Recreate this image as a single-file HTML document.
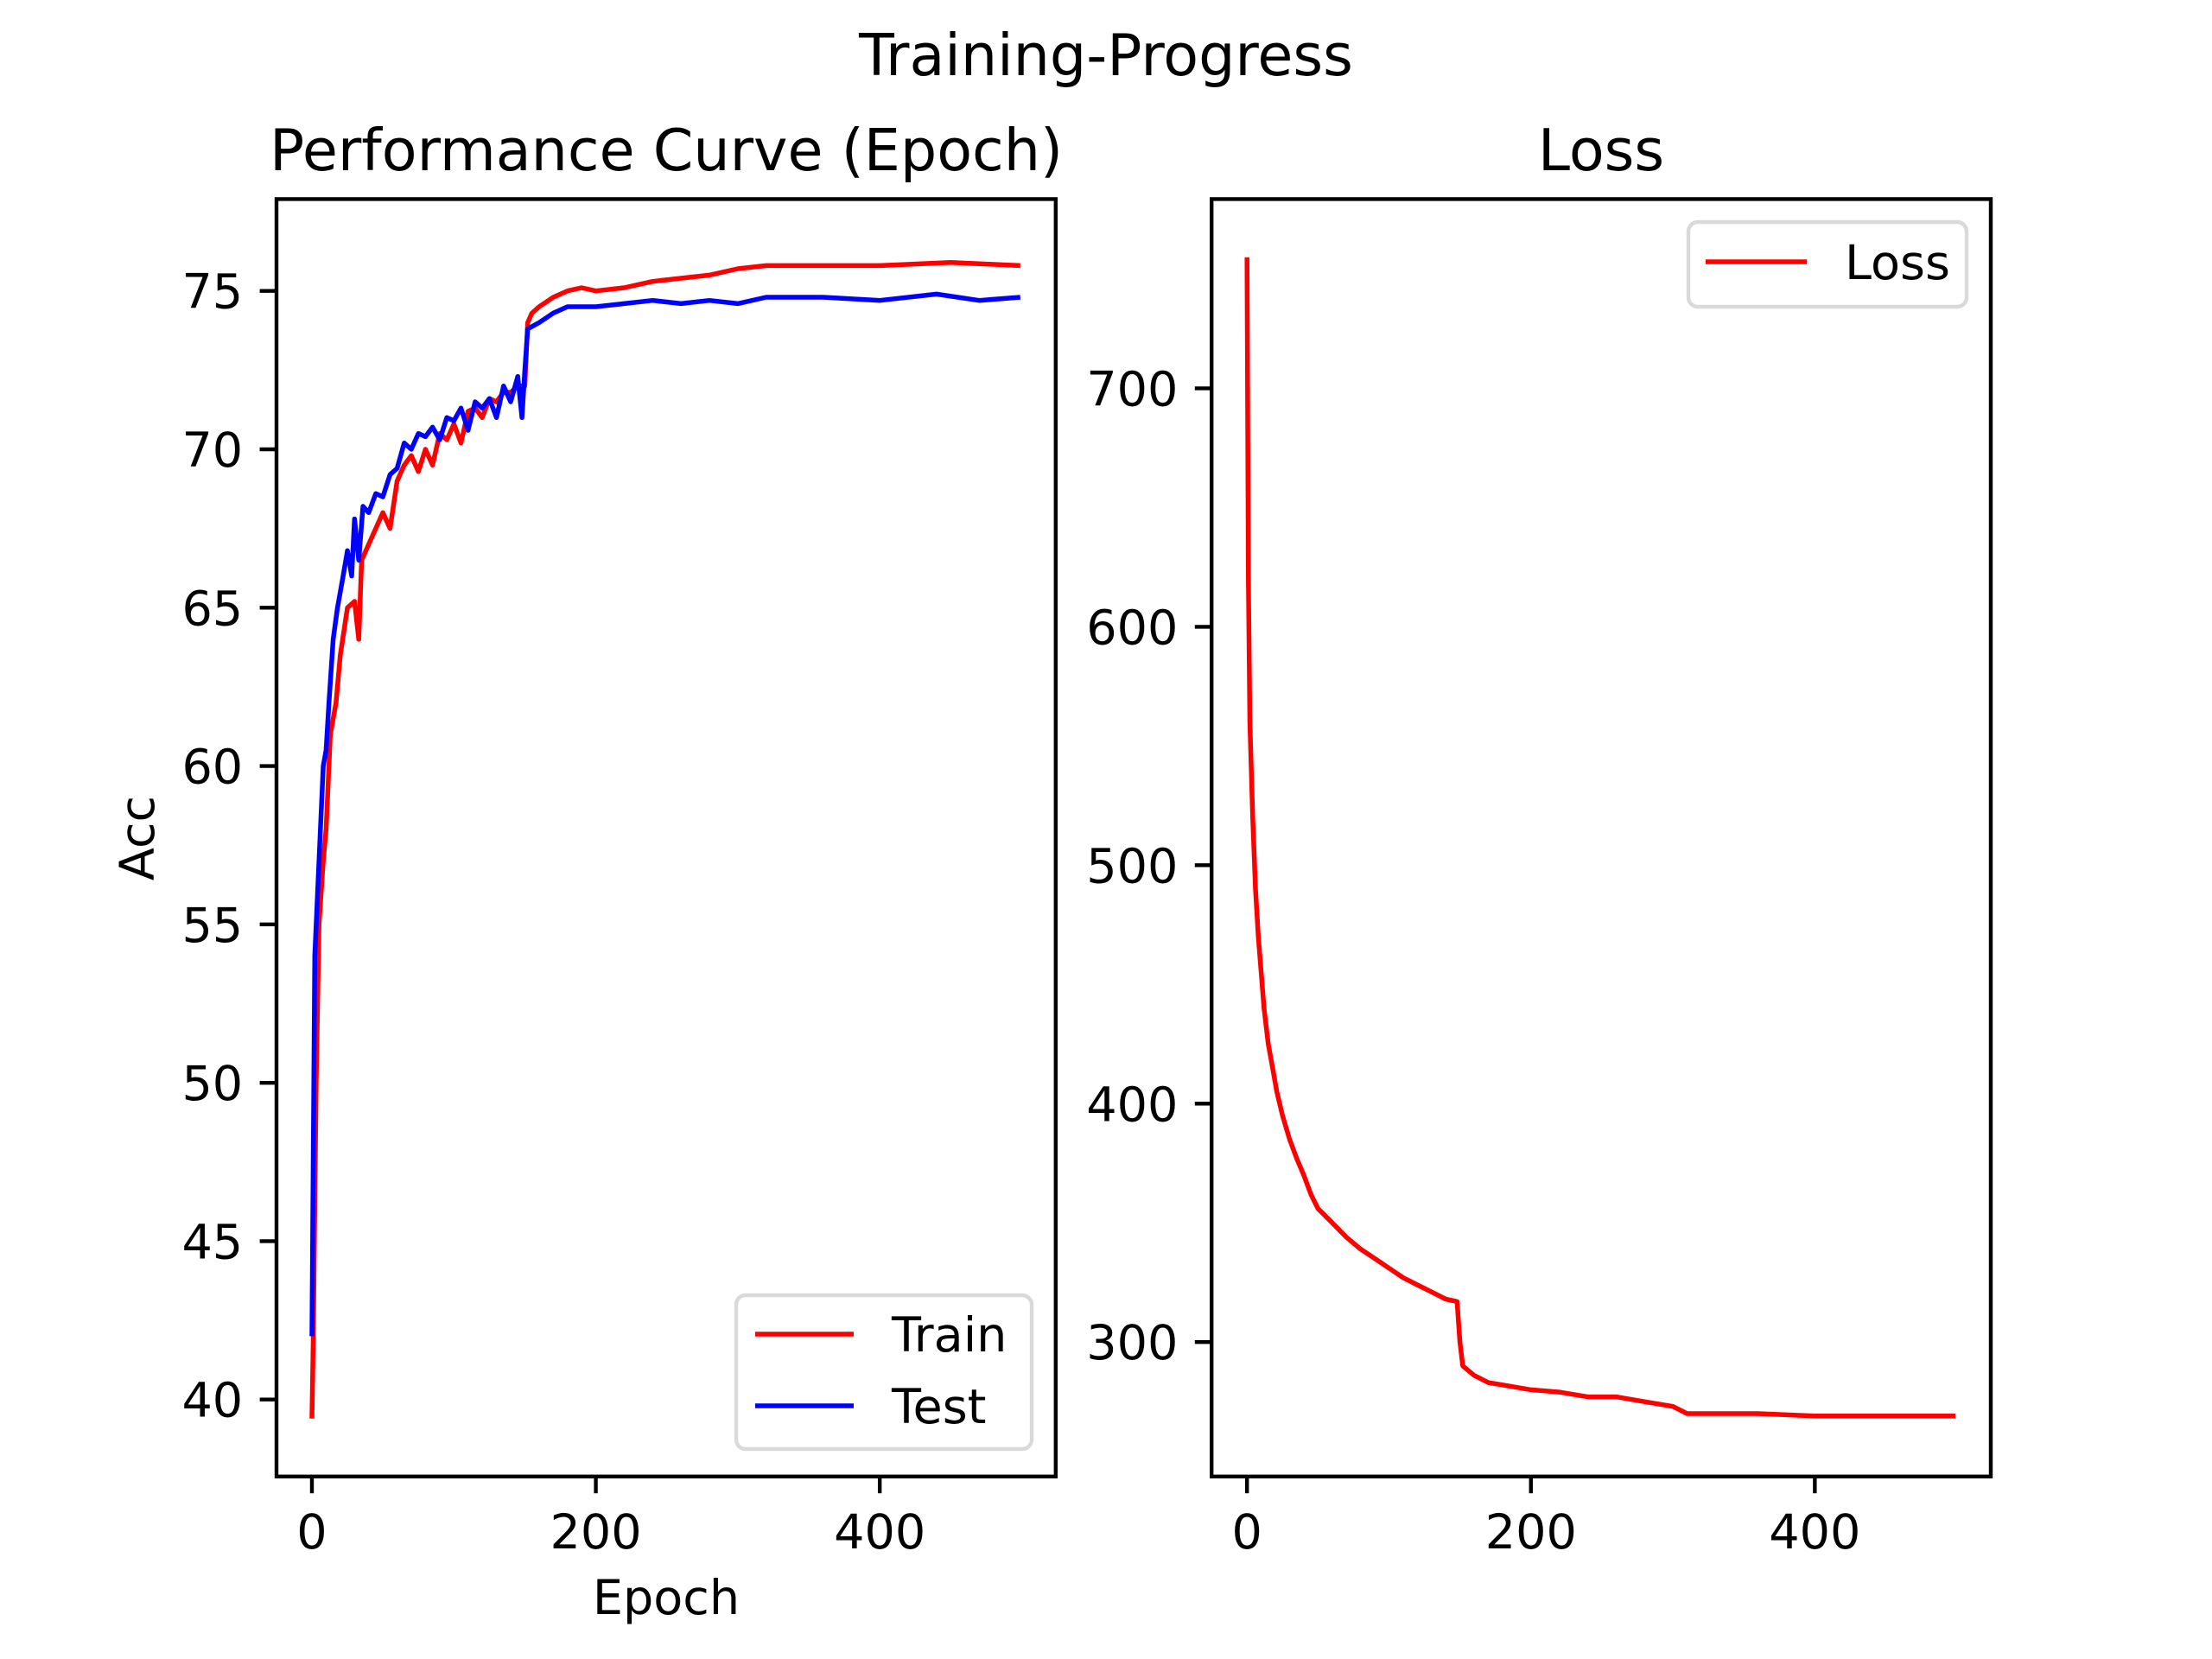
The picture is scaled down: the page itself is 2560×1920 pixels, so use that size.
<!DOCTYPE html>
<html><head><meta charset="utf-8"><style>
html,body{margin:0;padding:0;background:#fff}
svg{display:block}
text{font-family:"DejaVu Sans","Liberation Sans",sans-serif;fill:#000}
</style></head><body>
<svg id="fig" width="2560" height="1920" viewBox="0 0 2560 1920" xmlns="http://www.w3.org/2000/svg">
<rect width="2560" height="1920" fill="#fff"/>
<text x="1280" y="87" font-size="66.7" text-anchor="middle">Training-Progress</text>
<text x="771" y="197" font-size="66.7" text-anchor="middle">Performance Curve (Epoch)</text>
<text x="1853" y="197" font-size="66.7" text-anchor="middle">Loss</text>
<text x="771" y="1868" font-size="55.6" text-anchor="middle">Epoch</text>
<text x="0" y="0" font-size="55.6" text-anchor="middle" transform="translate(178,970) rotate(-90)">Acc</text>
<g id="g1"></g>
<g id="g2"></g>
</svg>
<script>
const accEpochs=[0,1,3,5,8,10,13,17,20,25,30,33,35,40,45,50,55,60,65,70,75,80,85,90,95,100,105,110,115,120,125,130,135,140,145,150,152,155,160,170,180,190,200,220,240,260,280,300,320,350,400,450,499];
const trainAcc=[39.4,42,50,55,57,58,61,62,63.5,65,65.2,64,66.5,67,67.5,68,67.5,69,69.5,69.8,69.3,70,69.5,70.5,70.3,70.8,70.2,71.2,71.3,71,71.6,71.5,71.8,71.8,72,72,74,74.3,74.5,74.8,75,75.1,75,75.1,75.3,75.4,75.5,75.7,75.8,75.8,75.8,75.9,75.8];
const testEpochs=[0,2,5,8,10,12,15,18,22,25,28,30,33,36,40,45,50,55,60,65,70,75,80,85,90,95,100,105,110,115,120,125,130,135,140,145,148,150,152,160,170,180,200,220,240,260,280,300,320,360,400,440,470,499];
const testAcc=[42,54,57,60,60.5,62,64,65,66,66.8,66,67.8,66.5,68.2,68,68.6,68.5,69.2,69.4,70.2,70,70.5,70.4,70.7,70.3,71,70.9,71.3,70.6,71.5,71.3,71.6,71,72,71.5,72.3,71,72.5,73.8,74,74.3,74.5,74.5,74.6,74.7,74.6,74.7,74.6,74.8,74.8,74.7,74.9,74.7,74.8];
const lossEpochs=[0,1,2,4,6,8,10,12,15,18,21,25,30,35,40,45,50,60,70,80,90,100,110,120,130,140,148,150,152,160,170,180,200,220,240,260,280,300,310,330,360,400,440,470,499];
const lossVals=[755,620,560,520,490,470,455,440,425,415,405,395,385,377,370,362,356,350,344,339,335,331,327,324,321,318,317,300,290,286,283,282,280,279,277,277,275,273,270,270,270,269,269,269,269];
const xTicks=[0,200,400];
const accTicks=[40,45,50,55,60,65,70,75];
const lossTicks=[300,400,500,600,700];

const NS="http://www.w3.org/2000/svg";
function mk(parent,tag,attrs){const e=document.createElementNS(NS,tag);for(const k in attrs)e.setAttribute(k,attrs[k]);parent.appendChild(e);return e;}
const T=230.4,B=1708.8;
function makeAxis(L,R,ymin,ymax){
  const xmin=-24.95,xmax=523.95;
  return {L,R,x:v=>L+(v-xmin)/(xmax-xmin)*(R-L),y:v=>B-(v-ymin)/(ymax-ymin)*(B-T)};
}
function lineOf(g,ax,xs,ys,color,name){
  const pts=xs.map((e,i)=>ax.x(e).toFixed(1)+","+ax.y(ys[i]).toFixed(1)).join(" ");
  const p=mk(g,"polyline",{points:pts,fill:"none",stroke:color,"stroke-width":5.5,"stroke-linejoin":"round"});
  
  
}
function frame(g,ax,yt,prefix){
  xTicks.forEach(t=>{
    const x=ax.x(t);
    const l=mk(g,"line",{x1:x,x2:x,y1:B,y2:B+19.4,stroke:"#000","stroke-width":4.4});
    
    
    const tx=mk(g,"text",{x:x,y:B+83,"font-size":55.6,"text-anchor":"middle"});
    tx.textContent=t;
    
    
  });
  yt.forEach(t=>{
    const y=ax.y(t);
    const l=mk(g,"line",{x1:ax.L-19.4,x2:ax.L,y1:y,y2:y,stroke:"#000","stroke-width":4.4});
    
    
    const tx=mk(g,"text",{x:ax.L-38.8,y:y+20,"font-size":55.6,"text-anchor":"end"});
    tx.textContent=t;
    
    
  });
  const r=mk(g,"rect",{x:ax.L,y:T,width:ax.R-ax.L,height:B-T,fill:"none",stroke:"#000","stroke-width":4.4});
  
  
}
function legend(g,x,y,w,h,items,name){
  const lg=mk(g,"g",{});
  
  
  mk(lg,"rect",{x:x,y:y,width:w,height:h,rx:11,fill:"#fff","fill-opacity":0.8,stroke:"#d9d9d9","stroke-width":4.4});
  items.forEach(it=>{
    mk(lg,"line",{x1:it.lx1,x2:it.lx2,y1:it.y,y2:it.y,stroke:it.c,"stroke-width":5.5});
    const t=mk(lg,"text",{x:it.tx,y:it.y+20,"font-size":55.6});
    t.textContent=it.label;
    
    
  });
}
const g1=document.getElementById("g1"),g2=document.getElementById("g2");
const ax1=makeAxis(320,1221.8,37.57,77.9);
const ax2=makeAxis(1402.2,2304,243.6,779.4);
const c1=mk(g1,"g",{});
lineOf(c1,ax1,accEpochs,trainAcc,"#ff0000","train-line");
lineOf(c1,ax1,testEpochs,testAcc,"#0000ff","test-line");
frame(g1,ax1,accTicks,"acc");
legend(g1,852,1499,342,178,[{lx1:874,lx2:988,tx:1032,y:1544,c:"#ff0000",label:"Train"},{lx1:874,lx2:988,tx:1032,y:1627,c:"#0000ff",label:"Test"}],"acc-legend");
lineOf(g2,ax2,lossEpochs,lossVals,"#ff0000","loss-line");
frame(g2,ax2,lossTicks,"loss");
legend(g2,1954,257,322,98,[{lx1:1974,lx2:2091,tx:2135,y:303,c:"#ff0000",label:"Loss"}],"loss-legend");
</script>
</body></html>
